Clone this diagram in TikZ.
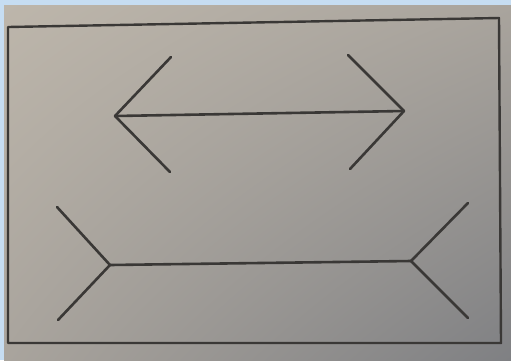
\documentclass[tikz,border=0pt]{standalone}
\usetikzlibrary{shadings}
\definecolor{frameblue}{HTML}{C6DDF2}
\definecolor{paperlight}{HTML}{BDB6AB}
\definecolor{papermid}{HTML}{A9A49D}
\definecolor{paperdark}{HTML}{7F8083}
\definecolor{ink}{HTML}{3A3836}
\tikzset{
  inkline/.style={draw=ink, line width=2.6pt, line cap=round, line join=round},
  boxline/.style={draw=ink, line width=2.4pt, line join=round}
}
\begin{document}
\begin{tikzpicture}[x=1pt,y=-1pt]
\useasboundingbox (0,0) rectangle (511,360);
\fill[frameblue] (0,0) rectangle (511,360);
\shade[upper left=paperlight, upper right=papermid, lower left=papermid, lower right=paperdark] (4,5) rectangle (511,360);
% frame
\coordinate (tl) at (8,27);
\coordinate (tr) at (499,18);
\coordinate (br) at (501,343);
\coordinate (bl) at (8,343);
\draw[boxline] (tl) -- (tr) -- (br) -- (bl) -- cycle;
% top figure (arrowheads)
\coordinate (ta) at (115,116);
\coordinate (tb) at (404,111);
\coordinate (ta1) at (171,57);
\coordinate (ta2) at (170,172);
\coordinate (tb1) at (348,55);
\coordinate (tb2) at (350,169);
\draw[inkline] (ta) -- (tb);
\draw[inkline] (ta1) -- (ta) -- (ta2);
\draw[inkline] (tb1) -- (tb) -- (tb2);
% bottom figure (fins)
\coordinate (ba) at (110,265);
\coordinate (bb) at (411,261);
\coordinate (ba1) at (57,207);
\coordinate (ba2) at (58,320);
\coordinate (bb1) at (468,203);
\coordinate (bb2) at (468,318);
\draw[inkline] (ba) -- (bb);
\draw[inkline] (ba1) -- (ba) -- (ba2);
\draw[inkline] (bb1) -- (bb) -- (bb2);
\end{tikzpicture}
\end{document}
